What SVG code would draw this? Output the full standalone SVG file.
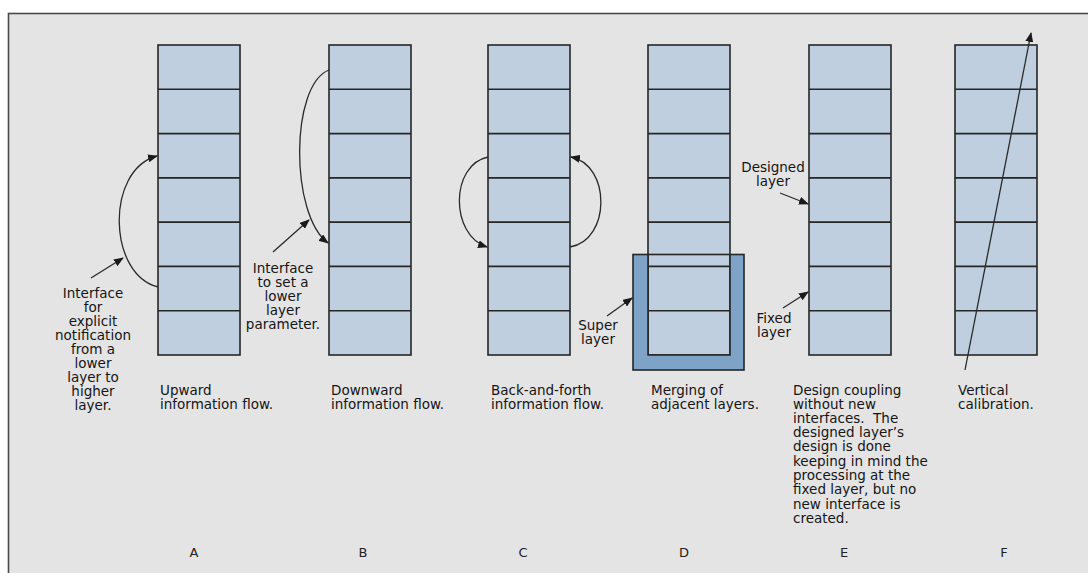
<svg xmlns="http://www.w3.org/2000/svg" xmlns:xlink="http://www.w3.org/1999/xlink" width="1088" height="573" viewBox="0 0 1088 573">
<style>
  text { font-family: "DejaVu Sans", "Liberation Sans", sans-serif; font-size: 13.5px; fill: #151515; white-space: pre; }
  .c { text-anchor: middle; }
  .lbl { font-size: 13px; text-anchor: middle; fill: #222; }
  .cell { fill: #bfcfdf; stroke: #262626; stroke-width: 1.6; }
  .conn { fill: none; stroke: #2a2a2a; stroke-width: 1.3; }
</style>
<defs>
  <marker id="ah" viewBox="0 0 10 8" refX="9" refY="4" markerWidth="10" markerHeight="8" markerUnits="userSpaceOnUse" orient="auto">
    <path d="M0,0 L10,4 L0,8 z" fill="#1a1a1a"/>
  </marker>
  <g id="stack">
    <rect class="cell" x="0" y="0" width="82" height="310"/>
    <path d="M0,44.3H82M0,88.6H82M0,132.9H82M0,177.1H82M0,221.4H82M0,265.7H82" stroke="#262626" stroke-width="1.6" fill="none"/>
  </g>
</defs>
<rect x="0" y="0" width="1088" height="573" fill="#ffffff"/>
<rect x="8.5" y="13.5" width="1090" height="570" fill="#e4e4e4" stroke="#4a4a4a" stroke-width="1.6"/>

<g id="stack-A"><use xlink:href="#stack" x="158" y="45"/></g>
<g id="stack-B"><use xlink:href="#stack" x="329" y="45"/></g>
<g id="stack-C"><use xlink:href="#stack" x="488" y="45"/></g>
<g id="stack-D">
  <use xlink:href="#stack" x="648" y="45"/>
  <path d="M633,254.5H648V355H730V254.5H744V370H633z" fill="#7fa3c7"/>
  <rect x="633" y="254.5" width="111" height="115.5" fill="none" stroke="#262626" stroke-width="1.6"/>
  <path d="M648,254.5V355H730V254.5" fill="none" stroke="#262626" stroke-width="1.6"/>
</g>
<g id="stack-E"><use xlink:href="#stack" x="809" y="45"/></g>
<g id="stack-F"><use xlink:href="#stack" x="955" y="45"/></g>

<g id="connectors">
  <path class="conn" d="M158,287 C108,275 105,170 157,156" marker-end="url(#ah)"/>
  <path class="conn" d="M91,278 L123,258" marker-end="url(#ah)"/>
  <path class="conn" d="M329,70 C290,85 290,215 328,243" marker-end="url(#ah)"/>
  <path class="conn" d="M273,252 L309,220" marker-end="url(#ah)"/>
  <path class="conn" d="M488,157 C450,165 450,235 487,247" marker-end="url(#ah)"/>
  <path class="conn" d="M570,247 C611,240 611,165 571,157" marker-end="url(#ah)"/>
  <path class="conn" d="M607,316 L632,298" marker-end="url(#ah)"/>
  <path class="conn" d="M780,193 L808,204" marker-end="url(#ah)"/>
  <path class="conn" d="M783,308 L808,292" marker-end="url(#ah)"/>
  <path class="conn" d="M965,370 L1031,33" marker-end="url(#ah)"/>
</g>

<g id="annotations">
  <text class="c" x="93" y="298">Interface</text>
  <text class="c" x="93" y="312">for</text>
  <text class="c" x="93" y="326">explicit</text>
  <text class="c" x="93" y="340">notification</text>
  <text class="c" x="93" y="354">from a</text>
  <text class="c" x="93" y="368">lower</text>
  <text class="c" x="93" y="382">layer to</text>
  <text class="c" x="93" y="396">higher</text>
  <text class="c" x="93" y="410">layer.</text>

  <text class="c" x="283" y="273">Interface</text>
  <text class="c" x="283" y="287">to set a</text>
  <text class="c" x="283" y="301">lower</text>
  <text class="c" x="283" y="315">layer</text>
  <text class="c" x="283" y="329">parameter.</text>

  <text class="c" x="598" y="330">Super</text>
  <text class="c" x="598" y="344">layer</text>

  <text class="c" x="773" y="172">Designed</text>
  <text class="c" x="773" y="186">layer</text>
  <text class="c" x="774" y="323">Fixed</text>
  <text class="c" x="774" y="337">layer</text>
</g>

<g id="captions">
  <text x="160" y="395">Upward</text>
  <text x="160" y="409">information flow.</text>
  <text x="331" y="395">Downward</text>
  <text x="331" y="409">information flow.</text>
  <text x="491" y="395">Back-and-forth</text>
  <text x="491" y="409">information flow.</text>
  <text x="651" y="395">Merging of</text>
  <text x="651" y="409">adjacent layers.</text>
  <text x="793" y="395">Design coupling</text>
  <text x="793" y="409">without new</text>
  <text x="793" y="423">interfaces.  The</text>
  <text x="793" y="437">designed layer’s</text>
  <text x="793" y="451">design is done</text>
  <text x="793" y="466">keeping in mind the</text>
  <text x="793" y="480">processing at the</text>
  <text x="793" y="494">fixed layer, but no</text>
  <text x="793" y="509">new interface is</text>
  <text x="793" y="523">created.</text>
  <text x="958" y="395">Vertical</text>
  <text x="958" y="409">calibration.</text>
</g>

<g id="letters">
  <text class="lbl" x="194" y="557">A</text>
  <text class="lbl" x="363" y="557">B</text>
  <text class="lbl" x="523" y="557">C</text>
  <text class="lbl" x="684" y="557">D</text>
  <text class="lbl" x="844" y="557">E</text>
  <text class="lbl" x="1004" y="557">F</text>
</g>
</svg>
